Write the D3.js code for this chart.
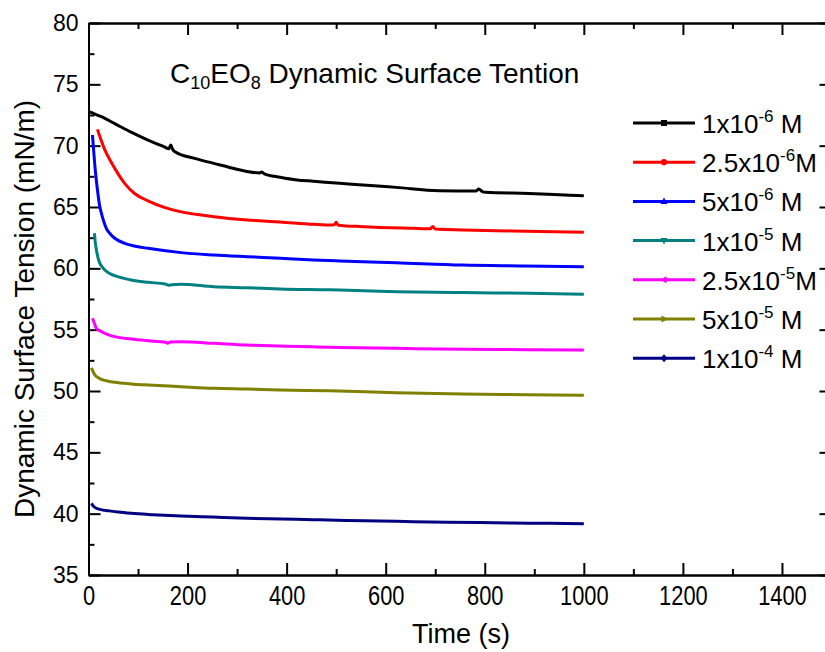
<!DOCTYPE html>
<html>
<head>
<meta charset="utf-8">
<script src="https://cdn.jsdelivr.net/npm/d3@7"></script>
<style>
  html, body { margin: 0; padding: 0; background: #fff; }
  svg { display: block; font-family: "Liberation Sans", Arial, Helvetica, sans-serif; }
</style>
</head>
<body>
<svg id="chart" width="825" height="652"></svg>
<script>
// Dynamic surface tension of C10EO8 solutions, [time (s), tension (mN/m)]
const c1e6   = [[2,72.75],[12,72.6],[26,72.36],[53,71.8],[86,71.1],[120,70.46],[153,69.9],[162,69.75],[166,70.05],[170,69.7],[173,69.55],[220,68.9],[253,68.56],[287,68.2],[320,67.9],[345,67.78],[350,67.86],[355,67.7],[387,67.42],[421,67.2],[454,67.1],[507,66.93],[554,66.8],[621,66.6],[708,66.33],[782,66.3],[788,66.46],[795,66.26],[802,66.2],[889,66.1],[950,66.0],[1000,65.92]];
const c25e6  = [[18,71.33],[25,70.5],[33,69.65],[43,68.85],[53,68.15],[63,67.5],[73,66.93],[93,66.1],[120,65.5],[153,64.97],[187,64.6],[220,64.38],[253,64.2],[320,63.94],[387,63.78],[454,63.59],[490,63.53],[496,63.55],[500,63.75],[504,63.52],[554,63.4],[655,63.26],[690,63.22],[695,63.42],[700,63.2],[755,63.13],[855,63.05],[1000,62.94]];
const c5e6   = [[8,70.87],[10,69.8],[13,68.3],[16,67.1],[19,66.1],[22,65.2],[26,64.5],[31,63.8],[36,63.26],[44,62.8],[53,62.45],[73,62.04],[95,61.8],[120,61.63],[187,61.28],[253,61.09],[320,60.95],[387,60.82],[454,60.68],[507,60.6],[621,60.46],[755,60.27],[880,60.2],[1000,60.13]];
const c1e5   = [[12,62.86],[14,62.0],[16,61.5],[19,60.9],[23,60.4],[28,60.1],[33,59.86],[42,59.6],[53,59.4],[70,59.2],[86,59.05],[120,58.86],[155,58.72],[162,58.62],[168,58.66],[187,58.7],[253,58.5],[320,58.42],[387,58.32],[487,58.25],[507,58.23],[621,58.1],[755,58.02],[889,57.97],[1000,57.89]];
const c25e5  = [[8,55.93],[12,55.5],[16,55.1],[21,54.95],[26,54.84],[38,54.62],[53,54.43],[86,54.24],[120,54.1],[155,53.98],[160,53.9],[165,54.0],[187,54.02],[253,53.89],[320,53.75],[387,53.67],[454,53.6],[507,53.55],[621,53.48],[755,53.4],[889,53.37],[1000,53.34]];
const c5e5   = [[6,51.9],[9,51.6],[13,51.3],[19,51.1],[26,50.95],[38,50.82],[53,50.71],[86,50.58],[120,50.49],[187,50.35],[253,50.22],[320,50.16],[387,50.08],[487,50.02],[621,49.86],[755,49.76],[889,49.7],[1000,49.65]];
const c1e4   = [[6,40.84],[10,40.6],[16,40.44],[25,40.33],[40,40.24],[60,40.13],[86,40.03],[130,39.92],[187,39.81],[250,39.72],[320,39.62],[390,39.56],[454,39.51],[520,39.45],[588,39.4],[655,39.35],[722,39.3],[790,39.27],[855,39.24],[930,39.21],[1000,39.18]];

const seriesData   = [c1e6, c25e6, c5e6, c1e5, c25e5, c5e5, c1e4];
const legendBase   = ["1x10", "2.5x10", "5x10", "1x10", "2.5x10", "5x10", "1x10"];
const legendExp    = ["-6", "-6", "-6", "-5", "-5", "-5", "-4"];
const legendUnit   = [" M", "M", " M", " M", "M", " M", " M"];
const seriesColors = ["#000000", "#ff0000", "#0000ff", "#008080", "#ff00ff", "#808000", "#000080"];
const seriesSymbols = ["square", "circle", "up", "down", "left", "right", "diamond"];

const xMajorTicks = [0, 200, 400, 600, 800, 1000, 1200, 1400];
const xMinorTicks = [100, 300, 500, 700, 900, 1100, 1300, 1500];
const yMajorTicks = [35, 40, 45, 50, 55, 60, 65, 70, 75, 80];
const yMinorTicks = [37.5, 42.5, 47.5, 52.5, 57.5, 62.5, 67.5, 72.5, 77.5];

const svg = d3.select("#chart");
const plotLeft = 88.5, plotRight = 831.5, plotTop = 23, plotBottom = 575;

const x = d3.scaleLinear().domain([0, 1500]).range([plotLeft, plotRight]);
const y = d3.scaleLinear().domain([35, 80]).range([plotBottom, plotTop]);
const fmt = d3.format("d");

function styleAxis(g) {
  g.select(".domain").attr("stroke", "#000").attr("stroke-width", 2);
  g.selectAll(".tick line").attr("stroke", "#000").attr("stroke-width", 2);
  g.selectAll(".tick text").attr("fill", "#000").attr("font-family", "Liberation Sans, Arial, sans-serif");
}

// left axis (labelled) with inward ticks
svg.append("g").attr("transform", `translate(${plotLeft},0)`)
  .call(d3.axisLeft(y).tickValues(yMajorTicks).tickFormat(fmt).tickSize(-12).tickSizeOuter(0).tickPadding(10))
  .call(styleAxis)
  .call(g => g.selectAll(".tick text").attr("font-size", 23));
svg.append("g").attr("transform", `translate(${plotLeft},0)`)
  .call(d3.axisLeft(y).tickValues(yMinorTicks).tickSize(-6).tickSizeOuter(0).tickFormat(""))
  .call(styleAxis);

// right axis, ticks only
svg.append("g").attr("transform", `translate(${plotRight},0)`)
  .call(d3.axisRight(y).tickValues(yMajorTicks).tickSize(-12).tickSizeOuter(0).tickFormat(""))
  .call(styleAxis);
svg.append("g").attr("transform", `translate(${plotRight},0)`)
  .call(d3.axisRight(y).tickValues(yMinorTicks).tickSize(-6).tickSizeOuter(0).tickFormat(""))
  .call(styleAxis);

// bottom axis (labelled; labels drawn slightly tall)
svg.append("g").attr("transform", `translate(0,${plotBottom})`)
  .call(d3.axisBottom(x).tickValues(xMajorTicks).tickFormat(fmt).tickSize(-12).tickSizeOuter(0).tickPadding(9))
  .call(styleAxis)
  .call(g => g.selectAll(".tick text").attr("font-size", 23).attr("transform", "scale(0.95,1.2)"));
svg.append("g").attr("transform", `translate(0,${plotBottom})`)
  .call(d3.axisBottom(x).tickValues(xMinorTicks).tickSize(-6).tickSizeOuter(0).tickFormat(""))
  .call(styleAxis);

// top axis, ticks only
svg.append("g").attr("transform", `translate(0,${plotTop})`)
  .call(d3.axisTop(x).tickValues(xMajorTicks).tickSize(-12).tickSizeOuter(0).tickFormat(""))
  .call(styleAxis);
svg.append("g").attr("transform", `translate(0,${plotTop})`)
  .call(d3.axisTop(x).tickValues(xMinorTicks).tickSize(-6).tickSizeOuter(0).tickFormat(""))
  .call(styleAxis);

// axis titles
svg.append("text")
  .attr("x", 461).attr("y", 643)
  .attr("text-anchor", "middle").attr("font-size", 27)
  .text("Time (s)");
svg.append("text")
  .attr("transform", "translate(34,309) rotate(-90)")
  .attr("text-anchor", "middle").attr("font-size", 28)
  .text("Dynamic Surface Tension (mN/m)");

// chart title with subscripts
const title = svg.append("text").attr("x", 170).attr("y", 83).attr("font-size", 28);
title.append("tspan").text("C");
title.append("tspan").attr("font-size", 18).attr("dy", 6).text("10");
title.append("tspan").attr("dy", -6).text("EO");
title.append("tspan").attr("font-size", 18).attr("dy", 6).text("8");
title.append("tspan").attr("dy", -6).text(" Dynamic Surface Tention");

// curves
const line = d3.line().x(d => x(d[0])).y(d => y(d[1])).curve(d3.curveMonotoneX);
svg.append("g").selectAll("path").data(seriesData).join("path")
  .attr("d", line)
  .attr("fill", "none")
  .attr("stroke", (d, i) => seriesColors[i])
  .attr("stroke-width", 3)
  .attr("stroke-linejoin", "round");

// legend
const symbolPath = {
  square: "M-3,-3H3V3H-3Z",
  circle: d3.symbol(d3.symbolCircle, 30)(),
  up: "M0,-4L3.5,2.5H-3.5Z",
  down: "M0,4L3.5,-2.5H-3.5Z",
  left: "M-4,0L2.5,-3.5V3.5Z",
  right: "M4,0L-2.5,-3.5V3.5Z",
  diamond: "M0,-4L3.5,0L0,4L-3.5,0Z"
};
const legend = svg.append("g");
seriesColors.forEach((c, i) => {
  const ly = 123 + i * 39.2;
  const row = legend.append("g").attr("transform", `translate(0,${ly})`);
  row.append("line").attr("x1", 633).attr("x2", 695).attr("y1", 0).attr("y2", 0)
    .attr("stroke", c).attr("stroke-width", 3);
  row.append("path").attr("d", symbolPath[seriesSymbols[i]])
    .attr("transform", "translate(664,0)").attr("fill", c);
  const t = row.append("text").attr("x", 702).attr("y", 10).attr("font-size", 26);
  t.append("tspan").text(legendBase[i]);
  t.append("tspan").attr("font-size", 17).attr("dy", -11).text(legendExp[i]);
  t.append("tspan").attr("dy", 11).text(legendUnit[i]);
});
</script>
</body>
</html>
